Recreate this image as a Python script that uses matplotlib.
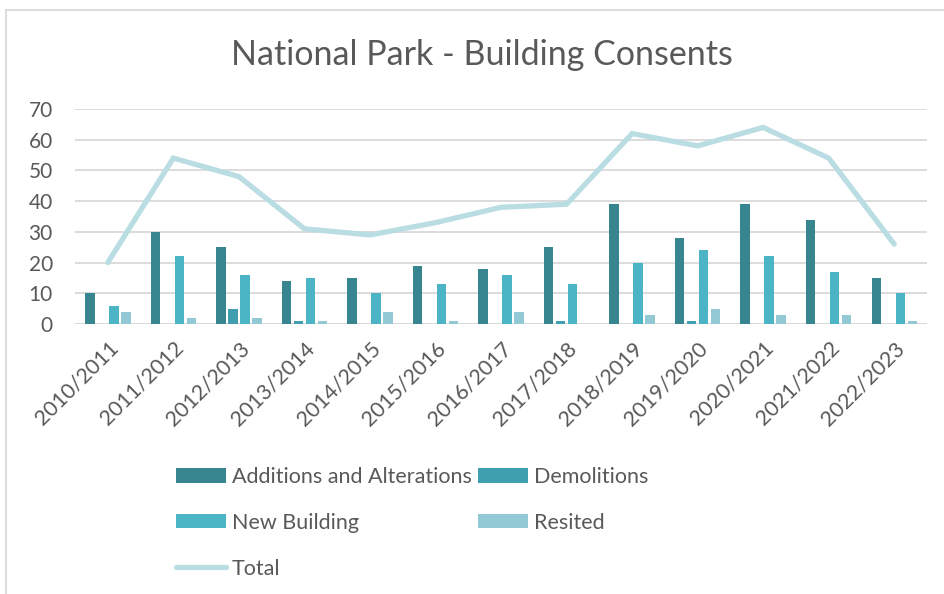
import numpy as np
import matplotlib
matplotlib.use("Agg")
import matplotlib.pyplot as plt
from matplotlib.lines import Line2D

years = ["2010/2011", "2011/2012", "2012/2013", "2013/2014", "2014/2015", "2015/2016", "2016/2017",
         "2017/2018", "2018/2019", "2019/2020", "2020/2021", "2021/2022", "2022/2023"]
additions = [10, 30, 25, 14, 15, 19, 18, 25, 39, 28, 39, 34, 15]
demolitions = [0, 0, 5, 1, 0, 0, 0, 1, 0, 1, 0, 0, 0]
new_building = [6, 22, 16, 15, 10, 13, 16, 13, 20, 24, 22, 17, 10]
resited = [4, 2, 2, 1, 4, 1, 4, 0, 3, 5, 3, 3, 1]
total = [20, 54, 48, 31, 29, 33, 38, 39, 62, 58, 64, 54, 26]

grey_text = "#595959"
plt.rcParams["font.family"] = ["Lato", "DejaVu Sans"]

fig = plt.figure(figsize=(9.45, 5.94), dpi=100)
ax = fig.add_axes([0.0794, 0.4545, 0.9016, 0.362])

x = np.arange(len(years))
step = 0.183
width = 0.145
series = [("Additions and Alterations", additions, "#37868F"),
          ("Demolitions", demolitions, "#3F9FAE"),
          ("New Building", new_building, "#4BB5C5"),
          ("Resited", resited, "#92C9D4")]
handles = []
for i, (name, vals, col) in enumerate(series):
    b = ax.bar(x + (i - 1.5) * step, vals, width, color=col, label=name, zorder=3)
    handles.append(b)

line, = ax.plot(x, total, color="#BADDE3", linewidth=3.8, solid_capstyle="round",
                solid_joinstyle="miter", label="Total", zorder=4)

ax.set_xlim(-0.5, len(years) - 0.5)
ax.set_ylim(0, 70)
ax.set_yticks(range(0, 71, 10))
ax.yaxis.grid(True, color="#D9D9D9", linewidth=1.3, zorder=0)
for s in ax.spines.values():
    s.set_visible(False)
ax.axhline(0, color="#D9D9D9", linewidth=1.3, zorder=2)
ax.tick_params(axis="both", length=0, colors=grey_text)
ax.tick_params(axis="y", pad=16, labelsize=15)
ax.tick_params(axis="x", pad=10, labelsize=15.5)
ax.set_xticks(x)
ax.set_xticklabels(years, rotation=45, ha="right", rotation_mode="anchor")

fig.text(0.51, 0.907, "National Park - Building Consents", ha="center", va="center",
         fontsize=24.5, color=grey_text)

order = [handles[0], handles[2], line, handles[1], handles[3]]
leg = fig.legend(order, [h.get_label() for h in order], ncol=2, loc="upper left",
                 bbox_to_anchor=(0.175, 0.232), frameon=False, fontsize=15.5, borderpad=0,
                 labelcolor=grey_text, handlelength=2.3, handleheight=0.65,
                 handletextpad=0.28, columnspacing=0.32, labelspacing=1.2)

# chart border
fig.add_artist(Line2D([0.0063, 0.0063], [0, 0.983], color="#D9D9D9", linewidth=1.3))
fig.add_artist(Line2D([0.0063, 1.0], [0.983, 0.983], color="#D9D9D9", linewidth=1.3))

fig.savefig("out.png", dpi=100)
